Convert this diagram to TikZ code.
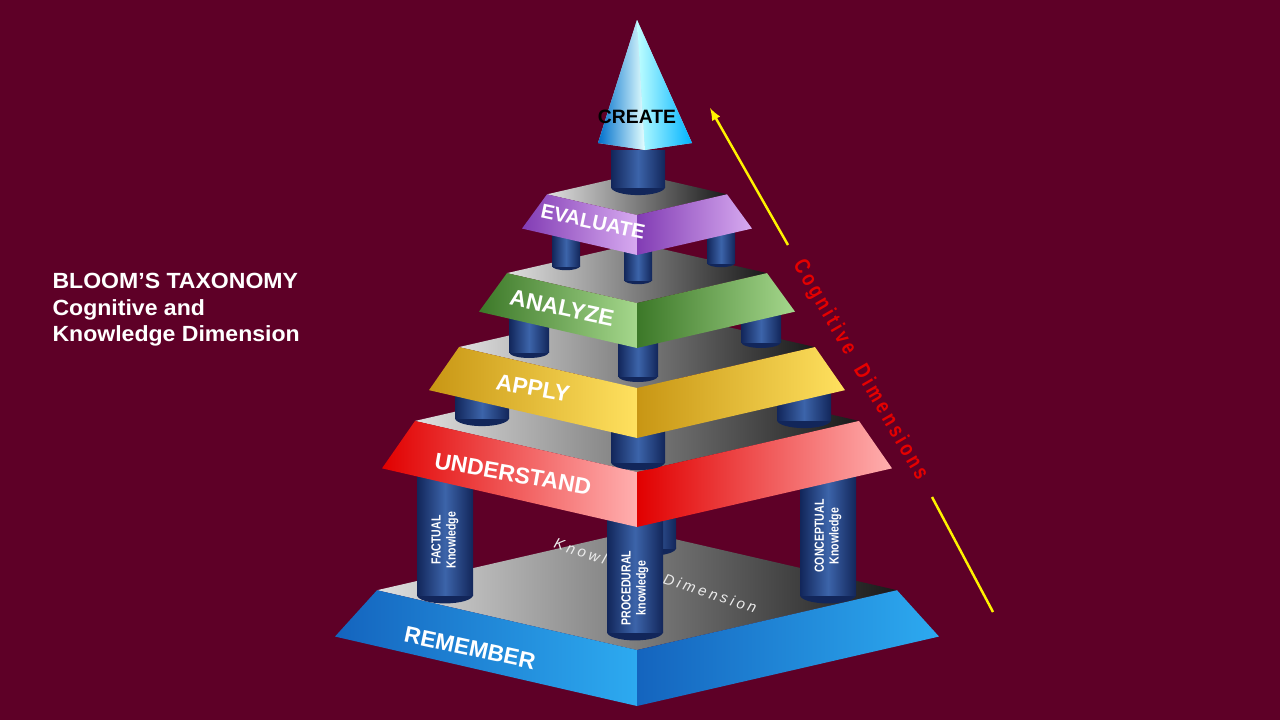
\documentclass[tikz,border=0pt]{standalone}
\usepackage{fontspec}
\setmainfont{Liberation Sans}
\usetikzlibrary{positioning}
\definecolor{bgred}{RGB}{94,0,39}
\definecolor{pilD}{RGB}{18,38,90}
\definecolor{pilL}{RGB}{60,100,170}
\definecolor{bluD}{RGB}{20,100,190}  \definecolor{bluL}{RGB}{45,170,240}
\definecolor{redD}{RGB}{225,0,0}     \definecolor{redL}{RGB}{255,175,175}
\definecolor{yelD}{RGB}{200,150,20}  \definecolor{yelL}{RGB}{255,225,95}
\definecolor{grnD}{RGB}{60,120,40}   \definecolor{grnL}{RGB}{165,215,140}
\definecolor{purD}{RGB}{130,60,180}  \definecolor{purL}{RGB}{215,170,240}
\tikzset{
  lvl/.style={text=white, font=\bfseries\fontsize{13}{13}\selectfont},
  pil/.style={text=white, font=\bfseries\fontsize{7.5}{8.5}\selectfont, rotate=90, align=center, xscale=0.8},
}
% one step: front bottom y, bottom half width, height, top half width, dark, light
\newcommand\tier[6]{%
  \shade[left color=gray!25, right color=black!90]
    ({637-#4},{#1-#3-0.23*#4}) -- (637,{#1-#3-0.46*#4}) -- ({637+#4},{#1-#3-0.23*#4}) -- (637,{#1-#3}) -- cycle;
  \shade[left color=#5, right color=#6]
    ({637-#2},{#1-0.23*#2}) -- (637,#1) -- (637,{#1-#3}) -- ({637-#4},{#1-#3-0.23*#4}) -- cycle;
  \shade[left color=#5, right color=#6]
    (637,#1) -- ({637+#2},{#1-0.23*#2}) -- ({637+#4},{#1-#3-0.23*#4}) -- (637,{#1-#3}) -- cycle;
}
% column: centre x, top, bottom, radius
\newcommand\pillar[4]{%
  \fill[pilD] (#1,#3) ellipse ({#4} and {0.3*#4});
  \shade[left color=pilD, right color=pilD, middle color=pilL] ({#1-#4},#2) rectangle ({#1+#4},#3);
}
\begin{document}
\begin{tikzpicture}[x=0.02cm, y=-0.02cm]
  \fill[bgred] (0,0) rectangle (1280,720);
  \useasboundingbox (0,0) rectangle (1280,720);

  % title
  \node[anchor=west, text=white, font=\bfseries\fontsize{12.5}{15}\selectfont, align=left, xscale=1.05] (title) at (46,310)
    {BLOOM’S TAXONOMY\\Cognitive and\\Knowledge Dimension};

  % remember
  \tier{706}{302}{56}{260}{bluD}{bluL}
  \node[text=white!85!gray, font=\itshape\fontsize{8.5}{8.5}\selectfont\addfontfeatures{LetterSpace=22}, rotate=-18] (kdim) at (655,577)
    {Knowledge\ \ Dimension};
  \pillar{650}{470}{548}{26}
  \pillar{445}{470}{595}{28}
  \pillar{828}{470}{595}{28}
  \pillar{635}{515}{632}{28}
  \node[pil] (fact) at (445,540) {FACTUAL\\Knowledge};
  \node[pil] (proc) at (635,588) {PROCEDURAL\\knowledge};
  \node[pil] (conc) at (828,536) {CONCEPTUAL\\Knowledge};
  \node[lvl, rotate=-12] (rem) at (470,648) {REMEMBER};

  % understand
  \tier{527}{255}{55}{222}{redD}{redL}
  \pillar{482}{385}{418}{27}
  \pillar{804}{385}{420}{27}
  \pillar{638}{415}{462}{27}
  \node[lvl, rotate=-10] (und) at (513,474) {UNDERSTAND};

  % apply
  \tier{438}{208}{50}{178}{yelD}{yelL}
  \pillar{529}{300}{352}{20}
  \pillar{761}{300}{342}{20}
  \pillar{638}{325}{376}{20}
  \node[lvl, rotate=-10] (app) at (533,388) {APPLY};

  % analyze
  \tier{348}{158}{45}{130}{grnD}{grnL}
  \pillar{566}{220}{266}{14}
  \pillar{721}{220}{263}{14}
  \pillar{638}{235}{280}{14}
  \node[lvl, rotate=-12] (ana) at (562,308) {ANALYZE};

  % evaluate
  \tier{255}{115}{40}{90}{purD}{purL}
  \pillar{638}{150}{187}{27}
  \node[lvl, rotate=-12, font=\bfseries\fontsize{11.5}{12}\selectfont] (eva) at (593,222) {EVALUATE};

  % create
  \fill[cyan!30!white] (637,20) -- (598,143) -- (645,150) -- (692,143) -- cycle;
  \shade[left color=blue!45!cyan!80!black, right color=cyan!10!white] (637,20) -- (598,143) -- (645,150) -- cycle;
  \shade[left color=cyan!25!white, right color=cyan!70!blue] (637,20) -- (645,150) -- (692,143) -- cycle;
  \node[font=\bfseries\fontsize{11}{11}\selectfont] (cre) at (637,117) {CREATE};

  % cognitive dimension arrow
  \coordinate (tipA) at (710,108);
  \coordinate (endA) at (788,245);
  \coordinate (endB) at (932,497);
  \coordinate (tipB) at (993,612);
  \draw[yellow, line width=1.4pt, -latex] (endA) -- (tipA);
  \draw[yellow, line width=1.4pt] (endB) -- (tipB);
  \node[text=red!90!black, font=\bfseries\fontsize{12.5}{12}\selectfont\addfontfeatures{LetterSpace=18}, rotate=-60, xscale=0.8] (cog) at (860,370)
    {Cognitive\ \ Dimensions};
\end{tikzpicture}
\end{document}
